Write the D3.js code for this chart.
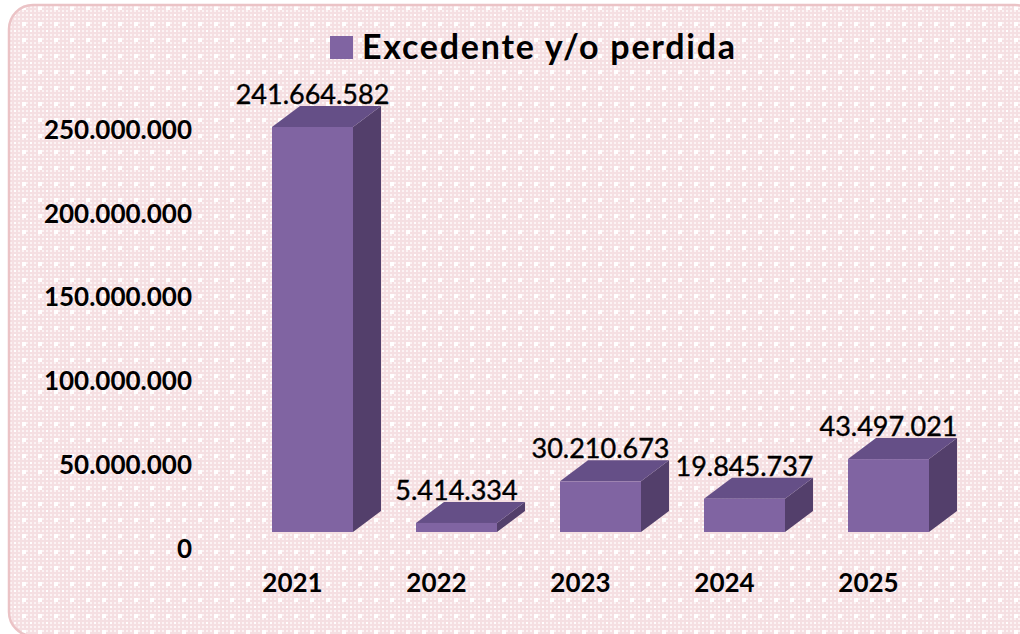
<!DOCTYPE html>
<html>
<head>
<meta charset="utf-8">
<script src="https://cdn.jsdelivr.net/npm/d3@7"></script>
<style>
  html, body { margin: 0; padding: 0; background: #fff; }
  svg { display: block; }
</style>
</head>
<body>
<div id="app"></div>
<script>
// data
const years = ["2021", "2022", "2023", "2024", "2025"];
const excedente = [241664582, 5414334, 30210673, 19845737, 43497021];
const yTicks = [0, 50000000, 100000000, 150000000, 200000000, 250000000];
const seriesName = "Excedente y/o perdida";

const w = 1020, h = 634;
const depthX = 28, depthY = -21;
const front = "#8064a2", topCol = "#654f87", sideCol = "#533f6b";

const svg = d3.select("#app").append("svg")
  .attr("width", w)
  .attr("height", h);

// pink patterned background
const defs = svg.append("defs");
const pat = defs.append("pattern")
  .attr("id", "bg")
  .attr("patternUnits", "userSpaceOnUse")
  .attr("width", 16).attr("height", 16);
pat.append("rect").attr("width", 16).attr("height", 16).attr("fill", "#fcf3f4");
for (let i = 0; i < 16; i += 4) {
  pat.append("rect").attr("x", i).attr("y", 0).attr("width", 2).attr("height", 16).attr("fill", "#f5dfe2");
  pat.append("rect").attr("x", 0).attr("y", i).attr("width", 16).attr("height", 2).attr("fill", "#f5dfe2");
}
pat.append("rect").attr("x", 6).attr("y", 6).attr("width", 4).attr("height", 4).attr("fill", "#ffffff");
pat.append("rect").attr("x", 14).attr("y", 14).attr("width", 2).attr("height", 2).attr("fill", "#ffffff");

svg.append("rect")
  .attr("x", 9).attr("y", 5)
  .attr("width", 1030).attr("height", 631)
  .attr("rx", 24)
  .attr("fill", "url(#bg)")
  .attr("stroke", "#ebc3c6")
  .attr("stroke-width", 2.5);

// scales
const x = d3.scaleBand()
  .domain(years)
  .range([240.5, 960.5])
  .paddingInner(0.4375)
  .paddingOuter(0.21875);

const y = d3.scaleLinear()
  .domain([0, 250000000])
  .range([532, 113]);

const fmt = v => d3.format(",")(v).replace(/,/g, ".");

// y axis (labels only), sits a bit below the front plane like excel 3d
const yAxis = d3.axisLeft(y)
  .tickValues(yTicks)
  .tickSize(0)
  .tickPadding(0)
  .tickFormat(fmt);

const ya = svg.append("g")
  .attr("transform", "translate(192,17)")
  .call(yAxis);
ya.select(".domain").remove();
ya.selectAll("text")
  .attr("font-family", "Lato, sans-serif")
  .attr("font-weight", "bold")
  .attr("font-size", 26)
  .attr("fill", "#000");

// x axis (labels only)
const xAxis = d3.axisBottom(x).tickSize(0).tickPadding(0);
const xa = svg.append("g")
  .attr("transform", "translate(-20,574)")
  .call(xAxis);
xa.select(".domain").remove();
xa.selectAll("text")
  .attr("font-family", "Lato, sans-serif")
  .attr("font-weight", "bold")
  .attr("font-size", 26)
  .attr("fill", "#000");

// 3d bars
const rows = years.map((yr, i) => ({ year: yr, value: excedente[i] }));
const bars = svg.append("g").selectAll("g.bar")
  .data(rows)
  .enter().append("g").attr("class", "bar");

bars.append("path") // side
  .attr("fill", sideCol)
  .attr("d", d => {
    const x1 = x(d.year) + x.bandwidth(), yt = y(d.value), yb = y(0);
    return `M${x1},${yt}L${x1 + depthX},${yt + depthY}L${x1 + depthX},${yb + depthY}L${x1},${yb}Z`;
  });

bars.append("path") // top
  .attr("fill", topCol)
  .attr("d", d => {
    const x0 = x(d.year), x1 = x0 + x.bandwidth(), yt = y(d.value);
    return `M${x0},${yt}L${x0 + depthX},${yt + depthY}L${x1 + depthX},${yt + depthY}L${x1},${yt}Z`;
  });

bars.append("rect") // front
  .attr("fill", front)
  .attr("x", d => x(d.year))
  .attr("y", d => y(d.value))
  .attr("width", x.bandwidth())
  .attr("height", d => y(0) - y(d.value));

// value labels
bars.append("text")
  .attr("x", d => x(d.year) + x.bandwidth() / 2)
  .attr("y", d => y(d.value) + depthY - 2)
  .attr("text-anchor", "middle")
  .attr("font-family", "Lato, sans-serif")
  .attr("font-size", 27)
  .attr("fill", "#000")
  .attr("stroke", "#000")
  .attr("stroke-width", 0.4)
  .text(d => fmt(d.value));

// legend / title
const leg = svg.append("g").attr("transform", "translate(330,36)");
leg.append("rect").attr("width", 23).attr("height", 23).attr("fill", front);
leg.append("text")
  .attr("x", 32).attr("y", 23)
  .attr("font-family", "Lato, sans-serif")
  .attr("font-weight", "bold")
  .attr("font-size", 34)
  .attr("textLength", 373)
  .attr("fill", "#000")
  .text(seriesName);
</script>
</body>
</html>
